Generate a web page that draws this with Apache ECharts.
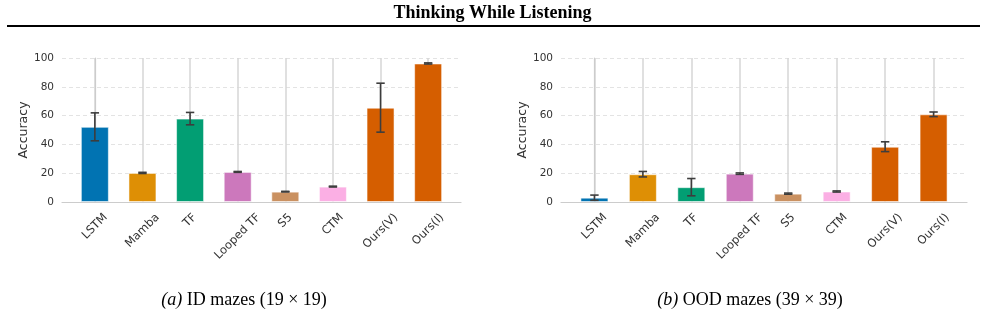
<!DOCTYPE html>
<html>
<head>
<meta charset="utf-8">
<script src="https://cdn.jsdelivr.net/npm/echarts@6/dist/echarts.min.js"></script>
<style>
  html, body { margin: 0; padding: 0; background: #fff; }
  #chart { width: 985px; height: 314px; }
</style>
</head>
<body>
<div id="chart"></div>
<script>
// categories and values
const models = ['LSTM', 'Mamba', 'TF', 'Looped TF', 'S5', 'CTM', 'Ours(V)', 'Ours(I)'];
const colors = ['#0173b2', '#de8f05', '#029e73', '#cc78bc', '#ca9161', '#fbafe4', '#d55e00', '#d55e00'];

// (a) ID mazes 19x19
const idMean = [52.2, 20.2, 57.9, 20.9, 7.2, 10.7, 65.5, 96.2];
const idErr  = [9.7, 0.4, 4.3, 0.3, 0.2, 0.3, 17.0, 0.4];

// (b) OOD mazes 39x39
const oodMean = [3.0, 19.3, 10.3, 19.7, 5.8, 7.3, 38.4, 60.9];
const oodErr  = [1.8, 1.9, 6.0, 0.5, 0.4, 0.4, 3.4, 1.6];

const yTicks = [0, 20, 40, 60, 80, 100];

const chart = echarts.init(document.getElementById('chart'));

// measure tick label widths so the rotated labels can be centred under the bars
const labelSize = 11.5;
const ctx = document.createElement('canvas').getContext('2d');
ctx.font = labelSize + 'px "DejaVu Sans"';
const rich = {};
models.forEach((m, i) => {
    const w = ctx.measureText(m).width;
    const s = (w + 13) / 2;
    rich['l' + i] = {
        fontSize: labelSize, fontFamily: 'DejaVu Sans', color: '#333',
        padding: [s, s, 0, 0]
    };
});

const idx = models.map((m, i) => i);

function xAxis(gridIndex) {
    return {
        type: 'value', gridIndex: gridIndex,
        min: -0.69, max: 7.69,
        axisLine: { show: true, lineStyle: { color: '#cccccc', width: 1.2 } },
        axisTick: { show: false, customValues: idx },
        axisLabel: {
            customValues: idx,
            rotate: 45, align: 'center', verticalAlign: 'middle', margin: 9,
            formatter: v => '{l' + v + '|' + models[v] + '}',
            rich: rich
        },
        splitLine: { show: true, lineStyle: { color: '#d6d6d6', width: 1.5 } }
    };
}

function yAxis(gridIndex) {
    return {
        type: 'value', gridIndex: gridIndex,
        min: 0, max: 100, interval: 20,
        name: 'Accuracy', nameLocation: 'middle', nameRotate: 90,
        nameGap: 30,
        nameTextStyle: { fontSize: 12.5, fontFamily: 'DejaVu Sans', color: '#333' },
        axisLine: { show: true, lineStyle: { color: '#cccccc', width: 1.2 } },
        axisTick: { show: false },
        axisLabel: { fontSize: 10.5, fontFamily: 'DejaVu Sans', color: '#333', margin: 8,
            customValues: yTicks },
        splitLine: { show: true, lineStyle: { color: '#e3e3e3', type: [4, 3], width: 1 } }
    };
}

function barSeries(gridIndex, means) {
    return {
        type: 'bar', xAxisIndex: gridIndex, yAxisIndex: gridIndex,
        barWidth: 28,
        data: means.map((v, i) => ({
            value: [i, v],
            itemStyle: { color: colors[i], borderColor: 'rgba(255,255,255,0.55)', borderWidth: 1 }
        })),
        z: 2
    };
}

function errSeries(gridIndex, means, errs) {
    return {
        type: 'custom', xAxisIndex: gridIndex, yAxisIndex: gridIndex,
        data: means.map((v, i) => [i, v - errs[i], v + errs[i]]),
        renderItem: (params, api) => {
            const lo = api.coord([api.value(0), api.value(1)]);
            const hi = api.coord([api.value(0), api.value(2)]);
            const c = 4.2;
            const style = { stroke: '#3d3d3d', lineWidth: 1.6 };
            return {
                type: 'group',
                children: [
                    { type: 'line', shape: { x1: lo[0], y1: lo[1], x2: hi[0], y2: hi[1] }, style: style },
                    { type: 'line', shape: { x1: lo[0] - c, y1: lo[1], x2: lo[0] + c, y2: lo[1] }, style: style },
                    { type: 'line', shape: { x1: hi[0] - c, y1: hi[1], x2: hi[0] + c, y2: hi[1] }, style: style }
                ]
            };
        },
        z: 3
    };
}

const captionStyle = {
    fontFamily: 'Liberation Serif', fontSize: 18, fontWeight: 'normal', color: '#000',
    rich: { i: { fontFamily: 'Liberation Serif', fontSize: 18, fontStyle: 'italic', color: '#000' } }
};

const option = {
    backgroundColor: '#fff',
    animation: false,
    title: [
        {
            text: 'Thinking While Listening', left: 'center', top: -1,
            textStyle: { fontFamily: 'Liberation Serif', fontWeight: 'bold', fontSize: 18, color: '#000' }
        },
        { text: '{i|(a)} ID mazes (19 × 19)', left: 239, top: 286, textAlign: 'center', textStyle: captionStyle },
        { text: '{i|(b)} OOD mazes (39 × 39)', left: 745, top: 286, textAlign: 'center', textStyle: captionStyle }
    ],
    graphic: [
        { type: 'line', shape: { x1: 7, y1: 26, x2: 980, y2: 26 }, style: { stroke: '#000', lineWidth: 2 } }
    ],
    grid: [
        { left: 62, right: 524, top: 58, bottom: 112 },
        { left: 561, right: 18, top: 58, bottom: 112 }
    ],
    xAxis: [xAxis(0), xAxis(1)],
    yAxis: [yAxis(0), yAxis(1)],
    series: [
        barSeries(0, idMean), errSeries(0, idMean, idErr),
        barSeries(1, oodMean), errSeries(1, oodMean, oodErr)
    ]
};

chart.setOption(option);
</script>
</body>
</html>
